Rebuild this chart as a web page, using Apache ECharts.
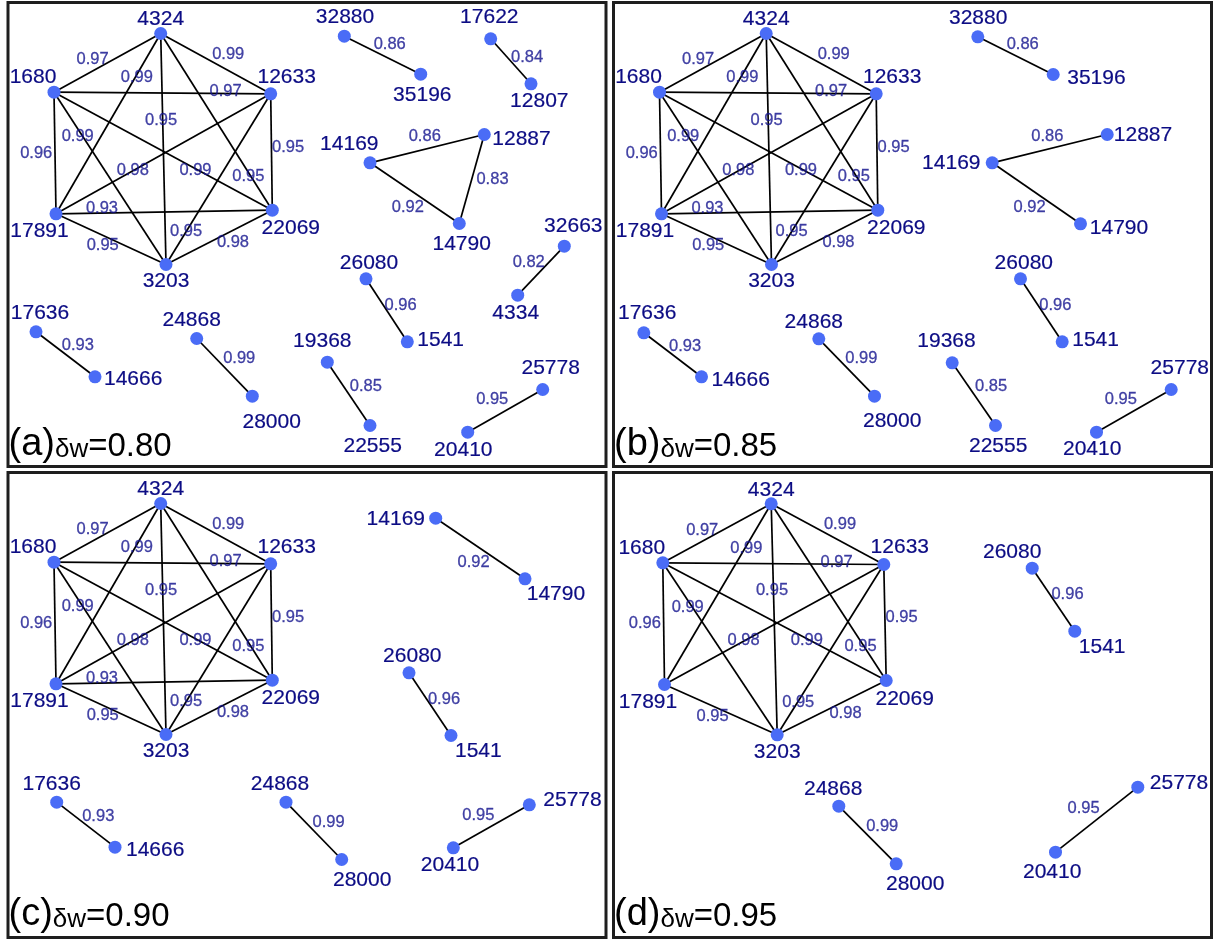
<!DOCTYPE html>
<html><head><meta charset="utf-8">
<script src="https://cdn.jsdelivr.net/npm/echarts@6/dist/echarts.min.js"></script>
<style>html,body{margin:0;padding:0;background:#fff}#c{width:1218px;height:941px}</style>
</head><body><div id="c"></div>
<script>
// ---------------- data ----------------
const panelTags = ['(a)', '(b)', '(c)', '(d)'];
const thresholds = [0.80, 0.85, 0.90, 0.95];

// weighted edges: [source, target, weight]
const hexEdges = [
  ['1680','4324',0.97], ['4324','12633',0.99], ['4324','17891',0.99], ['1680','12633',0.97],
  ['4324','3203',0.95], ['1680','17891',0.96], ['12633','22069',0.95], ['1680','3203',0.99],
  ['17891','12633',0.98], ['1680','22069',0.99], ['4324','22069',0.95], ['17891','22069',0.93],
  ['17891','3203',0.95], ['12633','3203',0.95], ['22069','3203',0.98]
];
const smallEdges = [
  ['32880','35196',0.86], ['17622','12807',0.84], ['14169','12887',0.86], ['12887','14790',0.83],
  ['14169','14790',0.92], ['32663','4334',0.82], ['26080','1541',0.96], ['19368','22555',0.85],
  ['20410','25778',0.95], ['17636','14666',0.93], ['24868','28000',0.99]
];

// graph layout coordinates of the nodes in each panel
const hexLayout = {'4324':[152.7,31], '1680':[46,89.7], '12633':[262.7,91.3], '17891':[48,211.3], '22069':[264.3,207.7], '3203':[158,262]};
const hexLayoutD = {'4324':[157.7,31.3], '1680':[49.3,90.3], '12633':[270.3,92], '17891':[51,212], '22069':[272.7,208], '3203':[163.7,262.3]};
const layoutA = {...hexLayout, '32880':[336.3,33.7], '35196':[412.7,71.7], '17622':[482.7,36.3], '12807':[523,81.3],
  '14169':[362,160.3], '12887':[476.3,132], '14790':[451.3,221], '32663':[556.3,243.7], '4334':[509.7,292.7],
  '26080':[358,276.3], '1541':[399.3,339.3], '19368':[319.3,359.7], '22555':[362,423], '25778':[534.7,387],
  '20410':[459.7,429.7], '17636':[28,329.3], '14666':[87,374.3], '24868':[188.7,336], '28000':[244.3,393.7]};
const layoutB = {...hexLayout, '32880':[364.3,34.3], '35196':[439.7,72], '12887':[493.7,132], '14169':[378.7,160.3],
  '14790':[467,221.3], '26080':[407,276.3], '1541':[448.7,339.3], '19368':[338.7,360.3], '22555':[382,423],
  '25778':[557.7,387], '20410':[483,429.7], '17636':[30.3,330.3], '14666':[88,374.3], '24868':[205.3,336.3], '28000':[261,393.7]};
const layoutC = {...hexLayout, '14169':[427.7,45.7], '14790':[517,106.3], '26080':[401,200.3], '1541':[443,263],
  '25778':[521.3,332.3], '20410':[445.3,375.3], '24868':[278,329.7], '28000':[333.7,387], '17636':[48.7,329.7], '14666':[107,374.7]};
const layoutD = {...hexLayoutD, '26080':[418.7,95.7], '1541':[461.3,158.7], '25778':[524.3,314.7], '20410':[442,379.7],
  '24868':[225.3,333.7], '28000':[282.7,391.3]};

// ---------------- styling / placement ----------------
const FONT = "'Liberation Sans', Arial, Helvetica, sans-serif";
const NODE_COLOR = '#4a6cf6';
const NODE_LABEL_COLOR = '#0c0c84';
const EDGE_LABEL_COLOR = '#14148e';

const panelBoxes = [[8,2.5,598,464],[613.5,2.5,598,464],[8,472.5,598,465],[613.5,472.5,598,465]];

// edge label shift from edge midpoint (px)
const edgeLabelShift = {
  '1680-4324':[-14.8,-3.3], '4324-12633':[12.5,-9.2], '4324-17891':[28.5,-46], '1680-12633':[63.3,-1.2],
  '4324-3203':[-2.2,-29], '1680-17891':[-18.8,0], '12633-22069':[16.6,-5], '1680-3203':[-32.3,-41.6],
  '17891-12633':[-30.6,16.3], '1680-22069':[32.3,19], '4324-22069':[31.8,54.5], '17891-22069':[-62.2,-3.5],
  '17891-3203':[-8.3,6.7], '12633-3203':[-32.3,52.8], '22069-3203':[13.8,5.6],
  '32880-35196':[7.2,-11], '17622-12807':[16.2,-3.5], '14169-12887':[-2.4,-11.7], '12887-14790':[20.7,0.2],
  '14169-14790':[-6.8,14.4], '32663-4334':[-12.3,-8.5], '26080-1541':[14,-5], '19368-22555':[17.2,-7.8],
  '20410-25778':[-13,-11.2], '17636-14666':[12.4,-8.7], '24868-28000':[14.7,-8.7]
};

// node label placement: [dx, dy, align]
const hexLabel = {'4324':[0,-14,'center'], '1680':[-21,-15,'center'], '12633':[16,-17,'center'],
  '17891':[-16.5,17.5,'center'], '22069':[18.5,18.5,'center'], '3203':[0,17,'center']};
const labelA = {...hexLabel, '32880':[0.7,-18.7,'center'], '35196':[1.6,21,'center'], '17622':[-1.4,-21.3,'center'],
  '12807':[8.3,17.4,'center'], '14169':[-20.7,-19,'center'], '12887':[8,4.5,'left'], '14790':[2.4,20.3,'center'],
  '32663':[9,-20,'center'], '4334':[-2,17.6,'center'], '26080':[3,-15.3,'center'], '1541':[10,-1.6,'left'],
  '19368':[-5,-21,'center'], '22555':[2.7,20.7,'center'], '25778':[8,-21.7,'center'], '20410':[-4.4,18,'center'],
  '17636':[4,-19,'center'], '14666':[9,2.7,'left'], '24868':[-5,-18,'center'], '28000':[19.4,26,'center']};
const labelB = {...hexLabel, '32880':[0.4,-19,'center'], '35196':[14,4,'left'], '12887':[6.6,1,'left'],
  '14169':[-11.7,0,'right'], '14790':[9.3,4,'left'], '26080':[3.3,-16,'center'], '1541':[10,-1.6,'left'],
  '19368':[-5.7,-21.6,'center'], '22555':[2.7,20.7,'center'], '25778':[8.6,-21.7,'center'], '20410':[-4.3,17.3,'center'],
  '17636':[3.4,-19.3,'center'], '14666':[10,3.4,'left'], '24868':[-5,-17,'center'], '28000':[17.7,25,'center']};
const labelC = {...hexLabel, '14169':[-10.7,0.6,'right'], '14790':[1.7,15,'left'], '26080':[3.3,-16.6,'center'],
  '1541':[4,16,'left'], '25778':[14,-4.3,'left'], '20410':[-3.3,17.7,'center'], '28000':[20.5,21,'center'],
  '24868':[-6,-18.4,'center'], '17636':[-5,-18.4,'center'], '14666':[11,2.6,'left']};
const labelD = {...hexLabel, '26080':[-20,-16,'center'], '1541':[4,16,'left'], '25778':[12,-4.4,'left'],
  '20410':[-3.3,20,'center'], '24868':[-5.6,-17.4,'center'], '28000':[19,20,'center']};

const layouts = [layoutA, layoutB, layoutC, layoutD];
const nodeLabels = [labelA, labelB, labelC, labelD];
const allEdges = hexEdges.concat(smallEdges);

// ---------------- build option ----------------
const grids = [], xAxes = [], yAxes = [], series = [], titles = [];
panelBoxes.forEach((b, i) => {
  const [left, top, w, h] = b;
  grids.push({left, top, width: w, height: h, show: true, borderColor: '#1e1e1e', borderWidth: 3, backgroundColor: '#fff', containLabel: false});
  xAxes.push({type: 'value', gridIndex: i, min: 0, max: w, show: false});
  yAxes.push({type: 'value', gridIndex: i, min: 0, max: h, inverse: true, show: false});

  const lay = layouts[i];
  const thr = thresholds[i];
  const vis = allEdges.filter(e => e[2] >= thr - 1e-9 && lay[e[0]] && lay[e[1]]);
  const ids = [];
  vis.forEach(e => { [e[0], e[1]].forEach(n => { if (!ids.includes(n)) ids.push(n); }); });

  const nodes = ids.map(id => {
    const p = nodeLabels[i][id] || [0, -18, 'center'];
    return {name: id, value: lay[id], label: {offset: [p[0], p[1]], align: p[2]}};
  });
  const links = vis.map(e => ({source: e[0], target: e[1]}));

  series.push({
    type: 'graph', coordinateSystem: 'cartesian2d', xAxisIndex: i, yAxisIndex: i,
    layout: 'none', silent: true, animation: false, z: 2,
    symbol: 'circle', symbolSize: 13,
    itemStyle: {color: NODE_COLOR, borderWidth: 0},
    lineStyle: {color: '#000', width: 1.7, opacity: 1, curveness: 0},
    label: {show: true, position: 'inside', formatter: '{b}', color: NODE_LABEL_COLOR,
      fontFamily: FONT, fontSize: 21, fontWeight: 'normal', verticalAlign: 'middle',
      textBorderColor: NODE_LABEL_COLOR, textBorderWidth: 0.2},
    emphasis: {disabled: true},
    data: nodes, links: links
  });

  const edgeLabels = vis.map(e => {
    const a = lay[e[0]], c = lay[e[1]];
    const sh = edgeLabelShift[e[0] + '-' + e[1]] || [0, 0];
    return {value: [(a[0] + c[0]) / 2, (a[1] + c[1]) / 2], label: {offset: sh, formatter: e[2].toFixed(2)}};
  });
  series.push({
    type: 'scatter', xAxisIndex: i, yAxisIndex: i, silent: true, animation: false, z: 4,
    symbolSize: 1, itemStyle: {color: 'rgba(0,0,0,0)'},
    label: {show: true, position: 'inside', color: EDGE_LABEL_COLOR, fontFamily: FONT, fontSize: 16.5,
      fontWeight: 'normal', align: 'center', verticalAlign: 'middle',
      textBorderColor: EDGE_LABEL_COLOR, textBorderWidth: 0.3},
    data: edgeLabels
  });

  titles.push({
    left: left + 0.5, top: top + 421.5, padding: 0,
    text: '{p|' + panelTags[i] + '}{d|δw}{v|=' + thr.toFixed(2) + '}',
    textStyle: {fontWeight: 'normal', rich: {
      p: {fontSize: 38, fontFamily: FONT, fontWeight: 'normal', color: '#000', verticalAlign: 'bottom', lineHeight: 40},
      d: {fontSize: 26, fontFamily: FONT, fontWeight: 'normal', color: '#000', verticalAlign: 'bottom', lineHeight: 28, padding: [0,0,1,0]},
      v: {fontSize: 33, fontFamily: FONT, fontWeight: 'normal', color: '#000', verticalAlign: 'bottom', lineHeight: 35, padding: [0,0,1,0]}
    }}
  });
});

const chart = echarts.init(document.getElementById('c'));
chart.setOption({
  backgroundColor: '#fff',
  animation: false,
  title: titles,
  grid: grids, xAxis: xAxes, yAxis: yAxes,
  series: series
});
</script>
</body></html>
